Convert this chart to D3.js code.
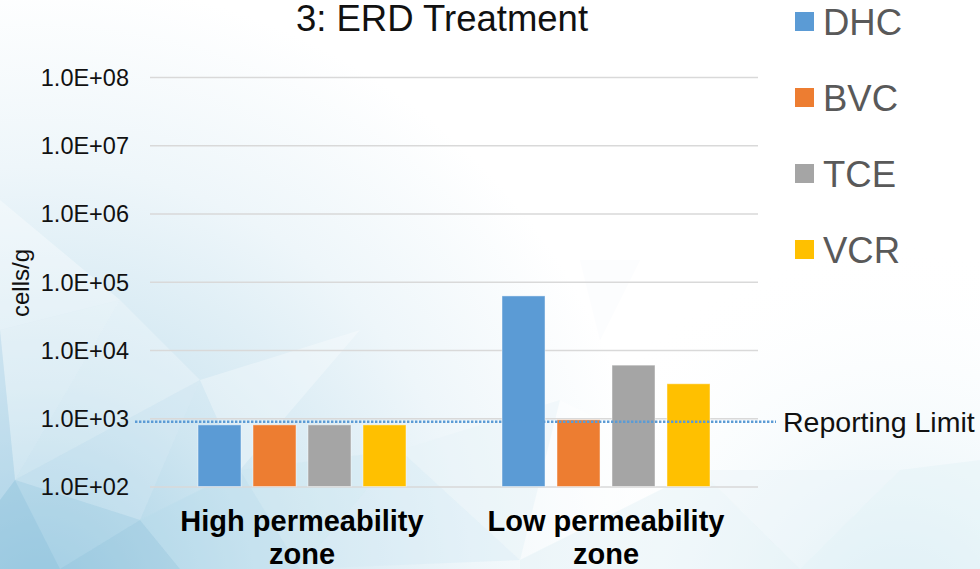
<!DOCTYPE html>
<html>
<head>
<meta charset="utf-8">
<script src="https://cdn.jsdelivr.net/npm/d3@7/dist/d3.min.js"></script>
<style>
  html, body { margin: 0; padding: 0; background: #fff; }
  svg { display: block; font-family: Arial, "Liberation Sans", sans-serif; }
</style>
</head>
<body>
<svg id="chart" width="980" height="569"></svg>
<script>
// Gene copy counts (cells/g) by permeability zone
const categories = ["High permeability zone", "Low permeability zone"];
const categoryLines = [["High permeability", "zone"], ["Low permeability", "zone"]];
const seriesNames = ["DHC", "BVC", "TCE", "VCR"];
const seriesColors = ["#5b9bd5", "#ed7d31", "#a5a5a5", "#ffc000"];
const DHC = [800, 62000];
const BVC = [800, 950];
const TCE = [800, 6000];
const VCR = [800, 3200];
const seriesValues = [DHC, BVC, TCE, VCR];
const tickValues = [1e2, 1e3, 1e4, 1e5, 1e6, 1e7, 1e8];
const tickLabels = ["1.0E+02", "1.0E+03", "1.0E+04", "1.0E+05", "1.0E+06", "1.0E+07", "1.0E+08"];
const reportingLimit = 890;
const title = "3: ERD Treatment";
const yLabel = "cells/g";

const svg = d3.select("#chart");
const W = 980, H = 569;

// ---- soft low-poly backdrop ----
const defs = svg.append("defs");
const rg = defs.append("radialGradient").attr("id", "bgGlow")
  .attr("gradientUnits", "userSpaceOnUse")
  .attr("cx", 40).attr("cy", 600).attr("r", 620);
rg.append("stop").attr("offset", "0%").attr("stop-color", "#9fcde3");
rg.append("stop").attr("offset", "35%").attr("stop-color", "#cfe6f1");
rg.append("stop").attr("offset", "70%").attr("stop-color", "#eef6fa");
rg.append("stop").attr("offset", "100%").attr("stop-color", "#ffffff");
const rg2 = defs.append("radialGradient").attr("id", "bgGlow2")
  .attr("gradientUnits", "userSpaceOnUse")
  .attr("cx", 900).attr("cy", 620).attr("r", 380);
rg2.append("stop").attr("offset", "0%").attr("stop-color", "#d9edf5");
rg2.append("stop").attr("offset", "100%").attr("stop-color", "#ffffff").attr("stop-opacity", 0);

svg.append("rect").attr("width", W).attr("height", H).attr("fill", "#ffffff");
svg.append("rect").attr("width", W).attr("height", H).attr("fill", "url(#bgGlow)");
svg.append("rect").attr("width", W).attr("height", H).attr("fill", "url(#bgGlow2)");

const facets = [
  {p: [[0,200],[120,300],[0,330]], c: "#ffffff", o: 0.35},
  {p: [[0,330],[120,300],[15,480]], c: "#ffffff", o: 0.3},
  {p: [[120,300],[200,380],[15,480]], c: "#ffffff", o: 0.25},
  {p: [[0,330],[15,480],[0,500]], c: "#b6d8ea", o: 0.35},
  {p: [[15,480],[200,380],[140,520]], c: "#dcecf5", o: 0.3},
  {p: [[0,500],[15,480],[60,569],[0,569]], c: "#8fc2dc", o: 0.45},
  {p: [[15,480],[140,520],[60,569]], c: "#a9d2e6", o: 0.35},
  {p: [[60,569],[140,520],[180,569]], c: "#8cc0db", o: 0.35},
  {p: [[140,520],[240,470],[300,569],[180,569]], c: "#b4d9ea", o: 0.35},
  {p: [[200,380],[360,330],[240,470]], c: "#ffffff", o: 0.3},
  {p: [[240,470],[400,450],[300,569]], c: "#c6e3f0", o: 0.3},
  {p: [[400,450],[520,560],[300,569]], c: "#d2e9f3", o: 0.35},
  {p: [[400,450],[560,400],[520,560]], c: "#e7f3f8", o: 0.4},
  {p: [[560,400],[700,470],[520,560]], c: "#ffffff", o: 0.35},
  {p: [[700,470],[800,569],[520,569],[520,560]], c: "#e0f0f6", o: 0.4},
  {p: [[700,470],[900,470],[800,569]], c: "#eaf5f9", o: 0.45},
  {p: [[900,470],[980,460],[980,569],[800,569]], c: "#e3f1f7", o: 0.45},
  {p: [[580,260],[640,260],[600,340]], c: "#f3f6fb", o: 0.25}
];
svg.append("g").selectAll("polygon").data(facets).join("polygon")
  .attr("points", d => d.p.map(q => q.join(",")).join(" "))
  .attr("fill", d => d.c).attr("fill-opacity", d => d.o);

// ---- scales ----
const plotLeft = 150, plotRight = 758, plotTop = 77, plotBottom = 486.5;
const x0 = d3.scaleBand().domain(categories).range([plotLeft, plotRight]).padding(0);
const x1 = d3.scaleBand().domain(seriesNames).range([0, x0.bandwidth()])
  .paddingInner(0.218).paddingOuter(0.873);
const y = d3.scaleLog().domain([1e2, 1e8]).range([plotBottom, plotTop]);

// ---- gridlines ----
const yAxis = d3.axisLeft(y).tickValues(tickValues)
  .tickSize(-(plotRight - plotLeft)).tickFormat((d, i) => tickLabels[i]).tickPadding(21);
const gy = svg.append("g").attr("transform", `translate(${plotLeft},0)`).call(yAxis);
gy.select(".domain").remove();
gy.selectAll(".tick line").attr("stroke", "#d9d9d9").attr("stroke-width", 1.5);
gy.selectAll(".tick text")
  .attr("font-size", 23.5).attr("fill", "#111").attr("dy", "0.36em")
  .attr("font-family", "Arial, 'Liberation Sans', sans-serif");

// ---- bars ----
const rows = categories.map((c, ci) => ({
  cat: c,
  vals: seriesNames.map((s, si) => ({s, v: seriesValues[si][ci], color: seriesColors[si]}))
}));
const groups = svg.append("g").selectAll("g").data(rows).join("g")
  .attr("transform", d => `translate(${x0(d.cat)},0)`);
groups.selectAll("rect").data(d => d.vals).join("rect")
  .attr("x", d => x1(d.s))
  .attr("width", x1.bandwidth())
  .attr("y", d => y(d.v))
  .attr("height", d => y(1e2) - y(d.v))
  .attr("fill", d => d.color)
  .attr("stroke", "#ffffff").attr("stroke-opacity", 0.45).attr("stroke-width", 1);

// ---- reporting limit ----
svg.append("line")
  .attr("x1", 135).attr("x2", 776)
  .attr("y1", y(reportingLimit)).attr("y2", y(reportingLimit))
  .attr("stroke", "#5b9bd5").attr("stroke-width", 2.5)
  .attr("stroke-dasharray", "2.4,1.6");
svg.append("text")
  .attr("x", 783).attr("y", y(reportingLimit)).attr("dy", "0.35em")
  .attr("font-size", 28.5).attr("fill", "#111")
  .text("Reporting Limit");

// ---- category labels ----
const catLabels = svg.append("g").selectAll("text").data(categories).join("text")
  .attr("x", d => x0(d) + x0.bandwidth() / 2)
  .attr("y", 531)
  .attr("text-anchor", "middle")
  .attr("font-size", 29).attr("font-weight", "bold").attr("fill", "#000");
catLabels.selectAll("tspan").data((d, i) => categoryLines[i]).join("tspan")
  .attr("x", function() { return d3.select(this.parentNode).attr("x"); })
  .attr("dy", (d, i) => i === 0 ? 0 : 32.5)
  .text(d => d);

// ---- title ----
svg.append("text")
  .attr("x", 442).attr("y", 31)
  .attr("text-anchor", "middle")
  .attr("font-size", 36.5).attr("fill", "#111")
  .text(title);

// ---- y label ----
svg.append("text")
  .attr("transform", "translate(29,283) rotate(-90)")
  .attr("text-anchor", "middle")
  .attr("font-size", 24).attr("fill", "#111")
  .text(yLabel);

// ---- legend ----
const legend = svg.append("g").selectAll("g").data(seriesNames).join("g")
  .attr("transform", (d, i) => `translate(795,${35 + i * 76})`);
legend.append("rect")
  .attr("x", 0).attr("y", -23).attr("width", 19).attr("height", 19)
  .attr("fill", (d, i) => seriesColors[i]);
legend.append("text")
  .attr("x", 28).attr("y", 0)
  .attr("font-size", 36.5).attr("fill", "#595959")
  .text(d => d);
</script>
</body>
</html>
